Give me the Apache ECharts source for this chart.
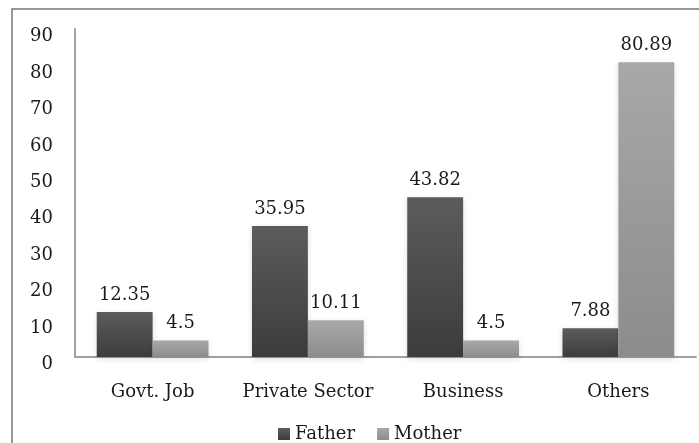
<!DOCTYPE html>
<html><head><meta charset="utf-8">
<script src="https://cdn.jsdelivr.net/npm/echarts@6/dist/echarts.min.js"></script>
<style>html,body{margin:0;padding:0;background:#fff}#c{width:699px;height:443px}</style>
</head><body><div id="c"></div>
<script>
const categories = ['Govt. Job', 'Private Sector', 'Business', 'Others'];
const fatherValues = [12.35, 35.95, 43.82, 7.88];
const motherValues = [4.5, 10.11, 4.5, 80.89];
const seriesNames = ['Father', 'Mother'];

const FONT = 'DejaVu Serif';
const FS = 18;
const chart = echarts.init(document.getElementById('c'));
function grad(a, b) {
  return new echarts.graphic.LinearGradient(0, 0, 0, 1, [{offset: 0, color: a}, {offset: 1, color: b}]);
}
chart.setOption({
  animation: false,
  textStyle: {fontFamily: FONT},
  graphic: [{
    type: 'rect', shape: {x: 12, y: 9, width: 800, height: 600},
    style: {fill: 'none', stroke: '#777', lineWidth: 1.5}, silent: true
  }],
  grid: {left: 75, right: 3, top: 29, bottom: 86, containLabel: false},
  legend: {
    data: seriesNames, left: 273, top: 420, itemWidth: 12, itemHeight: 12, itemGap: 22,
    icon: 'rect', textStyle: {fontFamily: FONT, fontSize: FS, color: '#1a1a1a', padding: [5, 0, 0, 0]}
  },
  xAxis: {
    type: 'category', data: categories,
    axisLine: {lineStyle: {color: '#a0a0a0', width: 2}},
    axisTick: {show: false},
    axisLabel: {interval: 0, fontFamily: FONT, fontSize: FS, color: '#1a1a1a', margin: 26}
  },
  yAxis: {
    type: 'value', min: 0, max: 90, interval: 10,
    axisLine: {show: true, lineStyle: {color: '#a0a0a0', width: 2}},
    axisTick: {show: false},
    splitLine: {show: false},
    axisLabel: {fontFamily: FONT, fontSize: FS, color: '#1a1a1a', margin: 22, verticalAlign: 'top', lineHeight: 15}
  },
  series: [
    {
      name: 'Father', type: 'bar', data: fatherValues, barGap: '0%', barCategoryGap: '28%',
      itemStyle: {color: grad('#5c5c5c', '#3c3c3c'), shadowColor: 'rgba(0,0,0,0.12)', shadowBlur: 6, shadowOffsetY: 2},
      label: {show: true, position: 'top', distance: 8, fontFamily: FONT, fontSize: FS, color: '#1a1a1a'}
    },
    {
      name: 'Mother', type: 'bar', data: motherValues,
      itemStyle: {color: grad('#a8a8a8', '#8c8c8c'), shadowColor: 'rgba(0,0,0,0.12)', shadowBlur: 6, shadowOffsetY: 2},
      label: {show: true, position: 'top', distance: 8, fontFamily: FONT, fontSize: FS, color: '#1a1a1a'}
    }
  ]
});
</script></body></html>
